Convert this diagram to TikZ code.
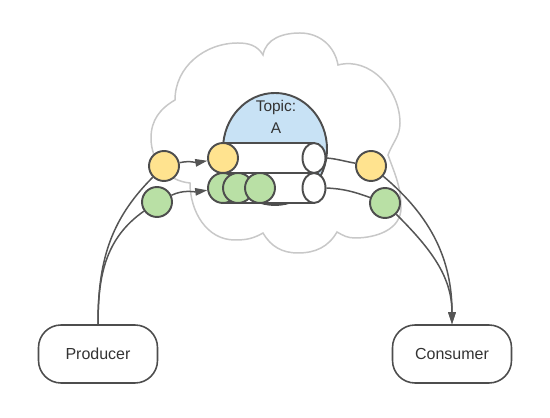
\documentclass[tikz,border=0pt]{standalone}
\usepackage{fontspec}
\setmainfont{Liberation Sans}
\usepackage{tikz}
\usetikzlibrary{arrows.meta,shapes.geometric}
\definecolor{cloudgray}{HTML}{C8C8C8}
\definecolor{linegray}{HTML}{555555}
\definecolor{edgegray}{HTML}{4D4D4D}
\definecolor{topicblue}{HTML}{C8E2F5}
\definecolor{msgyellow}{HTML}{FFE38F}
\definecolor{msggreen}{HTML}{B9E0A5}
\definecolor{textgray}{HTML}{333333}

\begin{document}
\begin{tikzpicture}[x=0.02cm, y=0.02cm, >={Triangle[length=2.4mm,width=1.5mm]},
	msg/.style={draw=edgegray, line width=1.1pt, circle, minimum size=0.6cm, inner sep=0pt},
	tubeend/.style={draw=edgegray, fill=white, line width=1.1pt, ellipse, minimum width=0.46cm, minimum height=0.6cm, inner sep=0pt},
	client/.style={draw=edgegray, line width=0.9pt, rounded corners=0.45cm, minimum width=2.38cm, minimum height=1.16cm, font=\fontsize{9.1}{11}\selectfont, text=textgray},
	link/.style={draw=linegray, line width=0.85pt}]
	\useasboundingbox (0,0) rectangle (550,418);
	%Cloud
	\draw[cloudgray, line width=0.85pt, fill=white] (175,318) to[out=90,in=180] (238,375) to[out=0,in=120] (263,363)
		to[out=80,in=180] (300,385) to[out=0,in=100] (338,353)
		to[out=15,in=90] (400,295) to[out=-90,in=70] (388,263)
		to[out=-70,in=90] (401,210) to[out=-90,in=0] (355,180) to[out=180,in=-30] (337,186)
		to[out=-120,in=0] (298,165) to[out=180,in=-60] (263,185)
		to[out=-150,in=0] (235,178) to[out=180,in=-90] (190,235)
		to[out=175,in=-90] (151,280) to[out=90,in=-150] (175,318) -- cycle;
	%Topic
	\draw[edgegray, line width=1.1pt, fill=topicblue] (275,269) ellipse [x radius=52, y radius=56];
	\node[text=textgray, align=center, font=\fontsize{8.8}{12.5}\selectfont] (topic) at (276,301) {Topic:\\A};
	%Tubes
	\filldraw[draw=edgegray, fill=white, line width=1.1pt] (223,245) rectangle (314,275);
	\filldraw[draw=edgegray, fill=white, line width=1.1pt] (223,215) rectangle (314,245);
	\node[tubeend] (endA) at (314,260) {};
	\node[tubeend] (endB) at (314,230) {};
	%Messages
	\node[msg, fill=msgyellow] (topY) at (223,260) {};
	\node[msg, fill=msggreen] (topG1) at (223,230) {};
	\node[msg, fill=msggreen] (topG2) at (238,230) {};
	\node[msg, fill=msggreen] (topG3) at (260,230) {};
	\node[msg, fill=msgyellow] (prodY) at (164,252) {};
	\node[msg, fill=msggreen] (prodG) at (157,216) {};
	\node[msg, fill=msgyellow] (consY) at (371,252) {};
	\node[msg, fill=msggreen] (consG) at (385,215) {};
	%Clients
	\node[client] (producer) at (98,64) {Producer};
	\node[client] (consumer) at (452,64) {Consumer};
	%Links
	\draw[link] (producer.north) to[out=90,in=-135] (prodY);
	\draw[link] (producer.north) to[out=90,in=-145] (prodG);
	\draw[link,->] (prodY) to[out=12,in=190] (topY);
	\draw[link,->] (prodG) to[out=25,in=188] (topG1);
	\draw[link] (endA.east) to[out=-5,in=170] (consY);
	\draw[link] (endB.east) to[out=-3,in=160] (consG);
	\draw[link,->] (consY) to[out=-40,in=90] (consumer.north);
	\draw[link,->] (consG) to[out=-45,in=90] (consumer.north);
\end{tikzpicture}
\end{document}
